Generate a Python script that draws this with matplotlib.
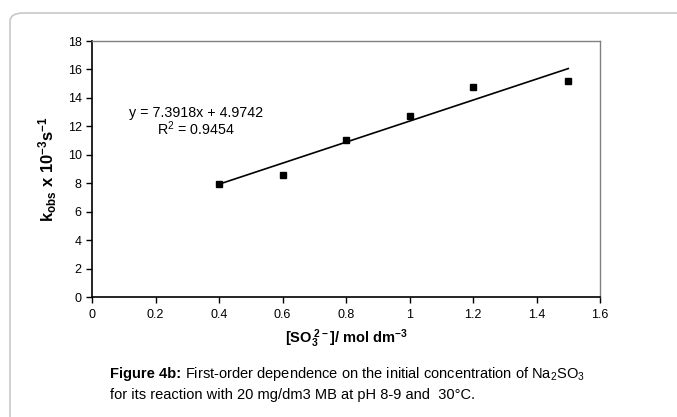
import numpy as np
import matplotlib.pyplot as plt
from matplotlib.patches import FancyBboxPatch

plt.rcParams['font.family'] = ['Liberation Sans', 'DejaVu Sans']
plt.rcParams['mathtext.fontset'] = 'custom'
plt.rcParams['mathtext.rm'] = 'Liberation Sans'
plt.rcParams['mathtext.it'] = 'Liberation Sans:italic'
plt.rcParams['mathtext.bf'] = 'Liberation Sans:bold'

conc = [0.4, 0.6, 0.8, 1.0, 1.2, 1.5]
kobs = [7.95, 8.6, 11.05, 12.75, 14.8, 15.2]
slope, intercept, r2 = 7.3918, 4.9742, 0.9454

fig = plt.figure(figsize=(6.77, 4.17), dpi=100)

# rounded grey frame around the whole figure
frame = FancyBboxPatch((10 / 677, -0.1), 1.2, (417 - 13) / 417 + 0.1,
                       boxstyle="round,pad=0,rounding_size=0.02",
                       transform=fig.transFigure, fill=False,
                       edgecolor="#c8c8c8", linewidth=1.2)
fig.patches.append(frame)

ax = fig.add_axes([92 / 677, 120 / 417, 508 / 677, 256 / 417])

ax.plot(conc, kobs, 's', color='black', markersize=4)
xfit = np.array([min(conc), max(conc)])
ax.plot(xfit, slope * xfit + intercept, color='black', linewidth=1.2)

ax.set_xlim(0, 1.6)
ax.set_ylim(0, 18)
ax.set_xticks(np.arange(0, 1.61, 0.2))
ax.set_xticklabels(['0', '0.2', '0.4', '0.6', '0.8', '1', '1.2', '1.4', '1.6'])
ax.set_yticks(range(0, 19, 2))
ax.tick_params(direction='out', length=4, width=1, labelsize=9, colors='black')
ax.tick_params(axis='x', pad=5)
for s in ['top', 'right']:
    ax.spines[s].set_color('#808080')
    ax.spines[s].set_linewidth(1)
for s in ['left', 'bottom']:
    ax.spines[s].set_linewidth(1.2)

ax.text(0.328, 12.95, 'y = %.4fx + %.4f' % (slope, intercept), fontsize=10.3, ha='center', va='center')
ax.text(0.328, 11.85, 'R$^2$ = %.4f' % r2, fontsize=10.3, ha='center', va='center')

ax.set_xlabel(r'$\mathbf{[SO_3^{\ 2-}]/\ mol\ dm^{-3}}$', fontsize=10.5, labelpad=4)
ax.set_ylabel(r'$\mathbf{k_{obs}\ x\ 10^{-3}s^{-1}}$', fontsize=12, labelpad=6)

t1 = fig.text(110 / 677, 1 - 374 / 417, 'Figure 4b:', fontsize=10.5,
              fontweight='bold', va='center')
ax.annotate('First-order dependence on the initial concentration of Na$_2$SO$_3$',
            xy=(1, 0.5), xycoords=t1, xytext=(3, 0), textcoords='offset points',
            fontsize=10.5, va='center')
fig.text(110 / 677, 1 - 395 / 417,
         'for its reaction with 20 mg/dm3 MB at pH 8-9 and  30°C.',
         fontsize=10.5, va='center')

fig.savefig('out.png', dpi=100)
